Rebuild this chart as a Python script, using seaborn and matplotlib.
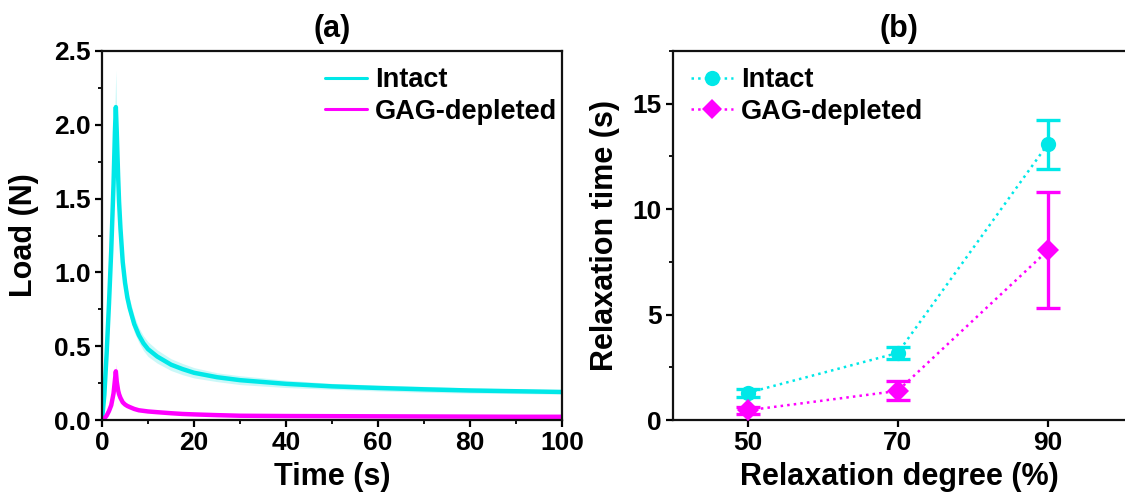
import matplotlib
matplotlib.use("Agg")
import matplotlib.pyplot as plt
from matplotlib.ticker import MultipleLocator, FormatStrFormatter
import numpy as np
import pandas as pd
import seaborn as sns

# ---- (a) load relaxation curves: mean and spread ----
time_s = [0, 0.5, 1.0, 1.5, 2.0, 2.5, 2.8, 3.0, 3.2, 3.5, 3.7, 4.0, 4.5, 5.0, 5.5,
          6.0, 7.0, 8.0, 9.0, 10, 12, 15, 17.5, 20, 25, 30, 40, 50, 60, 70, 80, 90, 100]
intact_load = [0.0, 0.17, 0.45, 0.78, 1.15, 1.60, 1.95, 2.12, 1.95, 1.65, 1.48, 1.30,
               1.07, 0.93, 0.83, 0.76, 0.65, 0.575, 0.52, 0.48, 0.43, 0.375, 0.345,
               0.32, 0.29, 0.27, 0.245, 0.228, 0.217, 0.208, 0.200, 0.195, 0.190]
intact_sd = [0.0, 0.02, 0.04, 0.06, 0.08, 0.12, 0.18, 0.25, 0.10, 0.08, 0.075, 0.07,
             0.065, 0.06, 0.06, 0.06, 0.055, 0.05, 0.05, 0.05, 0.045, 0.04, 0.038,
             0.035, 0.03, 0.03, 0.025, 0.02, 0.02, 0.02, 0.018, 0.016, 0.015]
gag_load = [0.0, 0.01, 0.03, 0.06, 0.10, 0.18, 0.27, 0.33, 0.26, 0.20, 0.175, 0.15,
            0.12, 0.105, 0.095, 0.088, 0.075, 0.066, 0.062, 0.058, 0.053, 0.046,
            0.041, 0.038, 0.033, 0.029, 0.027, 0.026, 0.025, 0.024, 0.023, 0.022, 0.022]
gag_sd = [0.0, 0.005, 0.008, 0.01, 0.015, 0.02, 0.03, 0.05, 0.02, 0.015, 0.013, 0.012,
          0.01, 0.01, 0.009, 0.008, 0.008, 0.006, 0.006, 0.006, 0.005, 0.005, 0.005,
          0.004, 0.004, 0.004, 0.004, 0.003, 0.003, 0.003, 0.003, 0.003, 0.003]

# ---- (b) relaxation time at each relaxation degree ----
degree = [50, 70, 90]
intact_tau = [1.29, 3.18, 13.08]
intact_tau_err = [0.20, 0.30, 1.17]
gag_tau = [0.46, 1.38, 8.04]
gag_tau_err = [0.18, 0.45, 2.75]

group_names = ["Intact", "GAG-depleted"]
CYAN = "#00E8E8"
MAGENTA = "#FF00FF"
BAND_CYAN = "#A8F4F4"
BAND_MAGENTA = "#FFA0FF"
INK = "#000000"

sns.set_theme(style="ticks")
plt.rcParams["font.family"] = ["Liberation Sans", "DejaVu Sans"]
plt.rcParams.update({
    "font.weight": "bold",
    "axes.labelweight": "bold",
    "axes.titleweight": "bold",
    "text.color": INK,
    "axes.labelcolor": INK,
    "xtick.color": INK,
    "ytick.color": INK,
    "axes.edgecolor": INK,
})

TICK_FS = 19
LABEL_FS = 22
LEG_FS = 19.5

fig = plt.figure(figsize=(11.25, 4.96), dpi=100)
ax_a = fig.add_axes([0.0907, 0.1532, 0.4089, 0.7440])
ax_b = fig.add_axes([0.598, 0.1532, 0.402, 0.7440])

# ---- panel (a) ----
n = len(time_s)
curves = pd.DataFrame({
    "time": time_s * 2,
    "load": intact_load + gag_load,
    "group": [group_names[0]] * n + [group_names[1]] * n,
})
t = np.array(time_s)
for mean, sd, band in ((intact_load, intact_sd, BAND_CYAN), (gag_load, gag_sd, BAND_MAGENTA)):
    m, s = np.array(mean), np.array(sd)
    ax_a.fill_between(t, m - s, m + s, color=band, alpha=0.6, linewidth=0)
sns.lineplot(data=curves, x="time", y="load", hue="group",
             palette=[CYAN, MAGENTA], linewidth=3.2, ax=ax_a, legend=False)
handles_a = [plt.Line2D([], [], color=CYAN, lw=2.2), plt.Line2D([], [], color=MAGENTA, lw=2.2)]
ax_a.legend(handles_a, group_names, loc="upper right", frameon=False,
            fontsize=LEG_FS, handlelength=1.55, handletextpad=0.3,
            labelspacing=0.2, borderaxespad=0.2, bbox_to_anchor=(1.025, 1.0))
ax_a.set_xlim(0, 100)
ax_a.set_ylim(0, 2.5)
ax_a.xaxis.set_major_locator(MultipleLocator(20))
ax_a.xaxis.set_minor_locator(MultipleLocator(10))
ax_a.yaxis.set_major_locator(MultipleLocator(0.5))
ax_a.yaxis.set_minor_locator(MultipleLocator(0.25))
ax_a.yaxis.set_major_formatter(FormatStrFormatter("%.1f"))
ax_a.set_xlabel("Time (s)", fontsize=LABEL_FS, labelpad=5)
ax_a.set_ylabel("Load (N)", fontsize=LABEL_FS, labelpad=11)
ax_a.set_title("(a)", fontsize=LABEL_FS, pad=10)

# ---- panel (b) ----
points = pd.DataFrame({
    "degree": degree * 2,
    "tau": intact_tau + gag_tau,
    "group": [group_names[0]] * 3 + [group_names[1]] * 3,
})
sns.lineplot(data=points, x="degree", y="tau", hue="group", style="group",
             palette=[CYAN, MAGENTA], markers={"Intact": "o", "GAG-depleted": "D"},
             dashes=False, linewidth=1.8, markersize=11,
             markeredgewidth=0, ax=ax_b, legend=False, zorder=3)
for ln in ax_b.get_lines():
    ln.set_linestyle(":")
for tau, err, col in ((intact_tau, intact_tau_err, CYAN), (gag_tau, gag_tau_err, MAGENTA)):
    ax_b.errorbar(degree, tau, yerr=err, fmt="none", ecolor=col, elinewidth=2.4,
                  capsize=8.5, capthick=2.4, zorder=2)
handles_b = [
    plt.Line2D([], [], color=CYAN, ls=":", lw=1.8, marker="o", ms=11, mew=0),
    plt.Line2D([], [], color=MAGENTA, ls=":", lw=1.8, marker="D", ms=10, mew=0),
]
ax_b.legend(handles_b, group_names, loc="upper left", frameon=False,
            fontsize=LEG_FS, handlelength=1.55, handletextpad=0.3,
            labelspacing=0.2, borderaxespad=0.2, bbox_to_anchor=(0.004, 1.0))
ax_b.set_xlim(40, 100.3)
ax_b.set_ylim(0, 17.5)
ax_b.set_xticks(degree)
ax_b.yaxis.set_major_locator(MultipleLocator(5))
ax_b.yaxis.set_minor_locator(MultipleLocator(2.5))
ax_b.set_xlabel("Relaxation degree (%)", fontsize=LABEL_FS, labelpad=5)
ax_b.set_ylabel("Relaxation time (s)", fontsize=LABEL_FS, labelpad=9)
ax_b.set_title("(b)", fontsize=LABEL_FS, pad=10)
ax_b.spines["right"].set_visible(False)

for ax in (ax_a, ax_b):
    for sp in ax.spines.values():
        sp.set_linewidth(1.6)
        sp.set_color("#111111")
    ax.tick_params(axis="both", which="major", direction="out", length=5, width=1.6,
                   labelsize=TICK_FS, colors=INK, pad=3)
    ax.tick_params(axis="both", which="minor", direction="out", length=3, width=1.3,
                   colors=INK)
    for lab in ax.get_xticklabels() + ax.get_yticklabels():
        lab.set_fontweight("bold")

fig.savefig("out.png", dpi=100)
